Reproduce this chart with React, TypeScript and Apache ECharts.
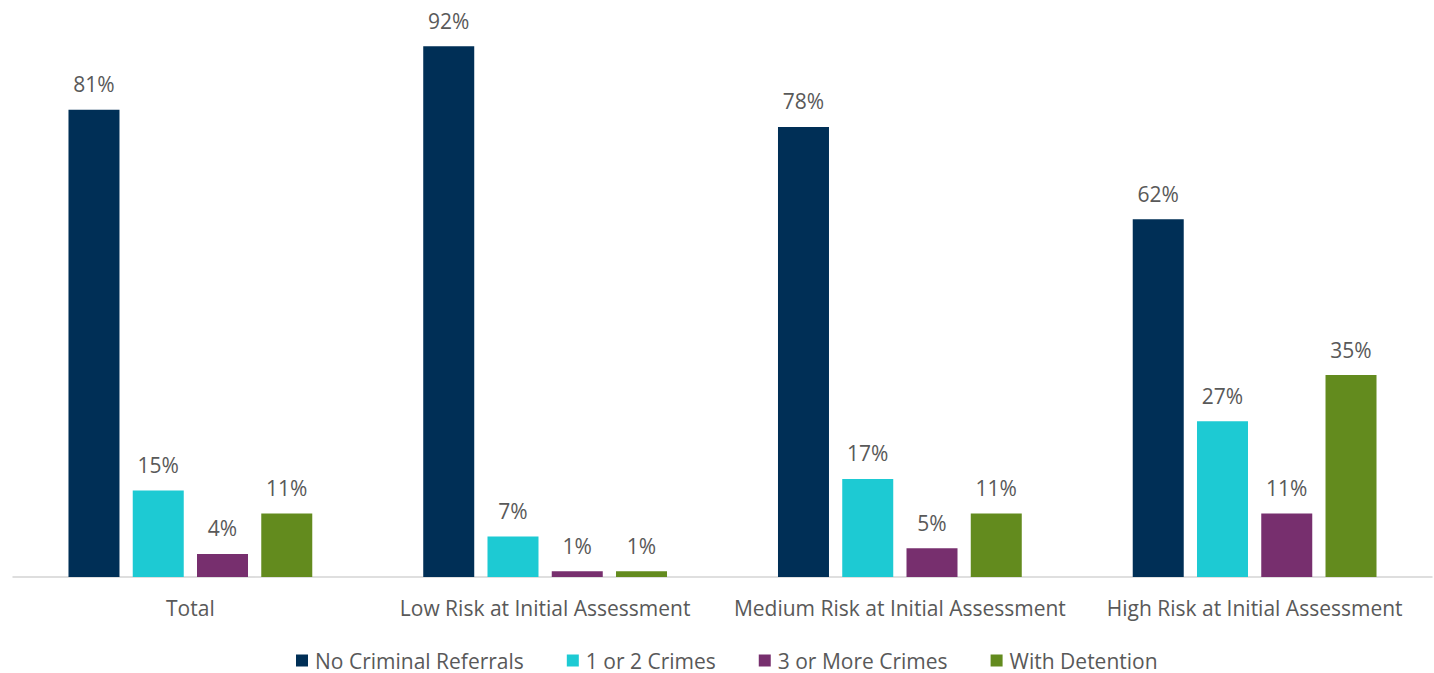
import React, { useEffect, useRef } from "react";
import * as echarts from "echarts";

const categories = [
  "Total",
  "Low Risk at Initial Assessment",
  "Medium Risk at Initial Assessment",
  "High Risk at Initial Assessment",
];
const seriesNames = ["No Criminal Referrals", "1 or 2 Crimes", "3 or More Crimes", "With Detention"];
const noCriminalReferrals = [81, 92, 78, 62];
const oneOrTwoCrimes = [15, 7, 17, 27];
const threeOrMoreCrimes = [4, 1, 5, 11];
const withDetention = [11, 1, 11, 35];
const colors = ["#002F56", "#1DCAD3", "#772F6E", "#638B1E"];

const FONT = "'Open Sans', 'Noto Sans', sans-serif";
const TEXT = "#595959";

export default function App() {
  const ref = useRef<HTMLDivElement>(null);
  useEffect(() => {
    document.body.style.margin = "0";
    if (!ref.current) return;
    const chart = echarts.init(ref.current, undefined, { renderer: "svg" });
    const values = [noCriminalReferrals, oneOrTwoCrimes, threeOrMoreCrimes, withDetention];
    chart.setOption({
      animation: false,
      grid: { left: 13, right: 2, top: 0, bottom: 96, containLabel: false },
      legend: {
        data: seriesNames,
        top: 650,
        left: 296,
        padding: 0,
        icon: "rect",
        itemWidth: 12,
        itemHeight: 12,
        itemGap: 43,
        textStyle: { fontFamily: FONT, fontSize: 21, color: TEXT, padding: [0, 0, 0, 2] },
      },
      xAxis: {
        type: "category",
        data: categories,
        axisLine: { show: true, lineStyle: { color: "#d4d4d4", width: 1.5 } },
        axisTick: { show: false },
        axisLabel: { fontFamily: FONT, fontSize: 21, color: TEXT, margin: 20, interval: 0 },
      },
      yAxis: { type: "value", min: 0, max: 100, show: false, splitLine: { show: false } },
      series: seriesNames.map((name, i) => ({
        name,
        type: "bar",
        data: values[i],
        barWidth: 51,
        barGap: "26%",
        itemStyle: { color: colors[i] },
        label: {
          show: true,
          position: "top",
          distance: 15,
          formatter: "{c}%",
          fontFamily: FONT,
          fontSize: 21,
          color: TEXT,
        },
      })),
    });
    return () => chart.dispose();
  }, []);
  return <div ref={ref} style={{ width: 1434, height: 673 }} />;
}
